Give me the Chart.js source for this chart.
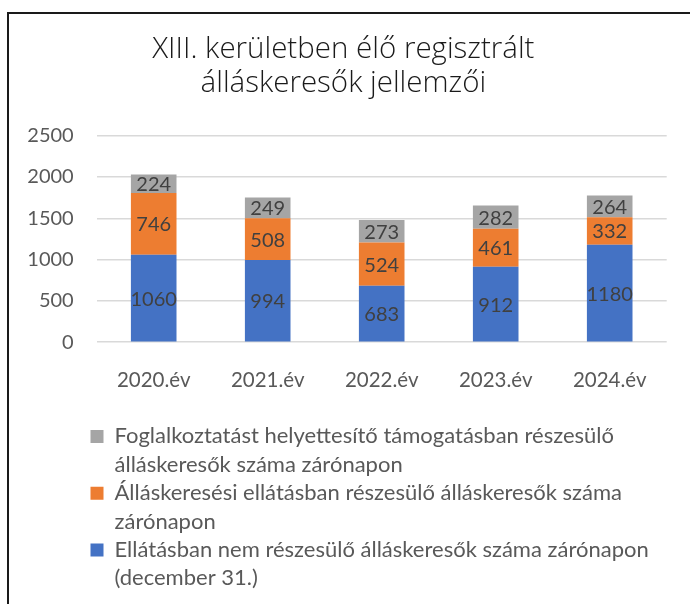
<!DOCTYPE html>
<html>
<head>
<meta charset="utf-8">
<script src="https://cdn.jsdelivr.net/npm/chart.js@4.4.1/dist/chart.umd.min.js"></script>
<style>
  html, body { margin: 0; padding: 0; background: #fff; }
  body { width: 690px; height: 604px; position: relative; overflow: hidden; }
  #frame { position: absolute; left: 7px; top: 12px; width: 800px; height: 800px;
           border-left: 2px solid #1a1a1a; border-top: 2px solid #1a1a1a; }
  #c { position: absolute; left: 0; top: 0; }
</style>
</head>
<body>
<div id="frame"></div>
<canvas id="c" width="690" height="604"></canvas>
<script>
// ---- data ----
const titleLines = ['XIII. kerületben élő regisztrált', 'álláskeresők jellemzői'];
const categories = ['2020.év', '2021.év', '2022.év', '2023.év', '2024.év'];
const notSupported = [1060, 994, 683, 912, 1180];      // Ellátásban nem részesülő
const benefitSupported = [746, 508, 524, 461, 332];    // Álláskeresési ellátásban részesülő
const replacementSupport = [224, 249, 273, 282, 264];  // Foglalkoztatást helyettesítő támogatás
const labelNotSupported = ['Ellátásban nem részesülő álláskeresők száma zárónapon', '(december 31.)'];
const labelBenefit = ['Álláskeresési ellátásban részesülő álláskeresők száma', 'zárónapon'];
const labelReplacement = ['Foglalkoztatást helyettesítő támogatásban részesülő', 'álláskeresők száma zárónapon'];
const yTicks = [0, 500, 1000, 1500, 2000, 2500];

// ---- styling ----
const FONT = 'Lato, "Open Sans", sans-serif';
const TITLE_FONT = '"Open Sans", Lato, sans-serif';
const legendFontSize = 22;
const legendRow = 56.8;
const legendPad = legendRow - legendFontSize;
const legendBoxX = 90.5;
const padLeft = 20;

const segLabels = {
  id: 'segLabels',
  afterDatasetsDraw(chart) {
    const ctx = chart.ctx;
    ctx.save();
    ctx.font = '20px ' + FONT;
    ctx.fillStyle = '#404040';
    ctx.textAlign = 'center';
    ctx.textBaseline = 'middle';
    chart.data.datasets.forEach((ds, i) => {
      const meta = chart.getDatasetMeta(i);
      meta.data.forEach((bar, j) => {
        const p = bar.getProps(['x', 'y', 'base'], true);
        ctx.fillText(String(ds.data[j]), p.x, (p.y + p.base) / 2 + 1);
      });
    });
    ctx.restore();
  }
};

// place the legend block under the plot like the reference (left-aligned list)
const legendPlace = {
  id: 'legendPlace',
  afterLayout(chart) {
    const lg = chart.legend;
    if (!lg) return;
    const dx = legendBoxX - legendPad - lg.left;
    lg.left += dx;
    lg.right = chart.width;
    lg.width = lg.right - lg.left;
    lg.bottom = chart.height;
    lg.height = lg.bottom - lg.top;
  }
};

new Chart(document.getElementById('c'), {
  type: 'bar',
  data: {
    labels: categories,
    datasets: [
      { label: labelNotSupported, data: notSupported, backgroundColor: '#4472C4' },
      { label: labelBenefit, data: benefitSupported, backgroundColor: '#ED7D31' },
      { label: labelReplacement, data: replacementSupport, backgroundColor: '#A5A5A5' }
    ]
  },
  options: {
    responsive: false,
    animation: false,
    layout: { padding: { left: padLeft, right: 23.3, top: 0, bottom: 33 } },
    datasets: { bar: { barPercentage: 0.4, categoryPercentage: 1.0 } },
    plugins: {
      tooltip: { enabled: false },
      title: {
        display: true,
        text: titleLines,
        color: '#1a1a1a',
        font: { family: TITLE_FONT, size: 29.5, weight: 300, lineHeight: 33.4 / 29.5 },
        padding: { top: 33, bottom: 35.9 }
      },
      legend: {
        position: 'bottom',
        align: 'start',
        reverse: true,
        labels: {
          color: '#595959',
          font: { family: FONT, size: legendFontSize, lineHeight: 28.4 / legendFontSize },
          boxWidth: 13,
          boxHeight: 13,
          padding: legendPad
        }
      }
    },
    scales: {
      x: {
        stacked: true,
        grid: { display: false },
        border: { display: false },
        ticks: { color: '#595959', font: { family: FONT, size: 20.5 }, padding: 18 },
        afterFit(s) { s.height = 48.4; }
      },
      y: {
        stacked: true,
        min: 0,
        max: 2500,
        afterBuildTicks(s) { s.ticks = yTicks.map(v => ({ value: v })); },
        grid: { color: '#D9D9D9', lineWidth: 1.5, drawTicks: false },
        border: { display: false },
        ticks: { color: '#595959', font: { family: FONT, size: 20 }, padding: 23,
                 callback: v => String(v) },
        afterFit(s) { s.width = 96.7 - padLeft; }
      }
    }
  },
  plugins: [segLabels, legendPlace]
});
</script>
</body>
</html>
